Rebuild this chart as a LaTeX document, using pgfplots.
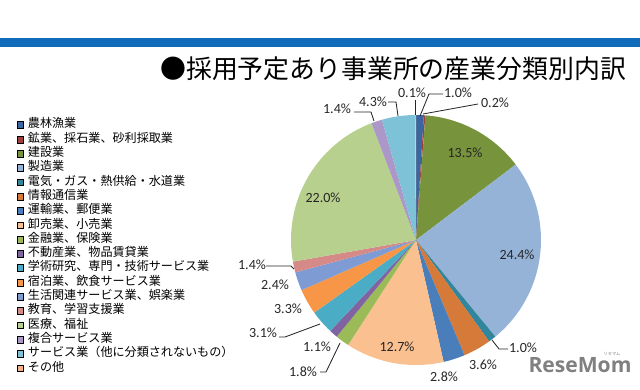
\documentclass[border=0pt]{standalone}
\usepackage{pgfplots}
\pgfplotsset{compat=1.18}
\usepackage{pgfplotstable}
\usepackage{fontspec}
\setmainfont{Carlito}
\newfontfamily\jp{Noto Sans CJK JP}
\newfontfamily\logo{Open Sans}
\definecolor{c0}{HTML}{3A67A0}
\definecolor{c1}{HTML}{A0403D}
\definecolor{c2}{HTML}{77933C}
\definecolor{c3}{HTML}{95B3D7}
\definecolor{c4}{HTML}{31859C}
\definecolor{c5}{HTML}{D57A39}
\definecolor{c6}{HTML}{4A7EBB}
\definecolor{c7}{HTML}{FAC090}
\definecolor{c8}{HTML}{9BBB59}
\definecolor{c9}{HTML}{8064A2}
\definecolor{c10}{HTML}{4BACC6}
\definecolor{c11}{HTML}{F79646}
\definecolor{c12}{HTML}{7E9BD3}
\definecolor{c13}{HTML}{D58A88}
\definecolor{c14}{HTML}{B8D08E}
\definecolor{c15}{HTML}{AB97C8}
\definecolor{c16}{HTML}{7EC2D8}
\definecolor{c17}{HTML}{F5B088}
\definecolor{bar}{HTML}{106CBA}
\definecolor{lab}{HTML}{262626}
\pgfplotstableread{
value
1.0
0.2
13.5
24.4
1.0
3.6
2.8
12.7
1.8
1.1
3.1
3.3
2.4
1.4
22.0
1.4
4.3
0.1
}\piedata
\begin{document}
\begin{tikzpicture}
\useasboundingbox (0,0) rectangle (16cm,9.725cm);
\begin{axis}[at={(0,0)}, anchor=south west, scale only axis,
  width=16cm, height=9.725cm, xmin=0, xmax=640, ymin=0, ymax=389,
  hide axis, clip=false,
  legend cell align=left,
  legend image code/.code={\fill[#1] (0cm,-0.085cm) rectangle (0.16cm,0.085cm);},
  legend style={at={(axis cs:17,271)}, anchor=north west, draw=none, fill=none,
    inner sep=0pt, outer sep=0pt, row sep=0pt,
    font=\jp\fontsize{8.6}{10}\selectfont,
    nodes={inner sep=0pt, text height=7.1pt, text depth=3.07pt},
    /tikz/every odd column/.append style={column sep=0.1cm}},
]
\addlegendimage{fill=c0}\addlegendentry{農林漁業}
\addlegendimage{fill=c1}\addlegendentry{鉱業、採石業、砂利採取業}
\addlegendimage{fill=c2}\addlegendentry{建設業}
\addlegendimage{fill=c3}\addlegendentry{製造業}
\addlegendimage{fill=c4}\addlegendentry{電気・ガス・熱供給・水道業}
\addlegendimage{fill=c5}\addlegendentry{情報通信業}
\addlegendimage{fill=c6}\addlegendentry{運輸業、郵便業}
\addlegendimage{fill=c7}\addlegendentry{卸売業、小売業}
\addlegendimage{fill=c8}\addlegendentry{金融業、保険業}
\addlegendimage{fill=c9}\addlegendentry{不動産業、物品賃貸業}
\addlegendimage{fill=c10}\addlegendentry{学術研究、専門・技術サービス業}
\addlegendimage{fill=c11}\addlegendentry{宿泊業、飲食サービス業}
\addlegendimage{fill=c12}\addlegendentry{生活関連サービス業、娯楽業}
\addlegendimage{fill=c13}\addlegendentry{教育、学習支援業}
\addlegendimage{fill=c14}\addlegendentry{医療、福祉}
\addlegendimage{fill=c15}\addlegendentry{複合サービス業}
\addlegendimage{fill=c16}\addlegendentry{サービス業（他に分類されないもの）}
\addlegendimage{fill=c17}\addlegendentry{その他}
% top bar
\fill[bar] (axis cs:0,342) rectangle (axis cs:640,351);
% title
\node[anchor=west, inner sep=0pt, text=black, font=\jp\fontsize{18.4}{21}\selectfont] at (axis cs:160,320) {●採用予定あり事業所の産業分類別内訳};
% pie
\def\cx{416}\def\cy{149}
\xdef\angA{90}
\pgfplotsforeachungrouped \i in {0,...,17}{%
  \pgfplotstablegetelem{\i}{value}\of\piedata
  \pgfmathsetmacro\angB{\angA-360*\pgfplotsretval/100.1}%
  \pgfmathsetmacro\px{\cx+125*cos(\angA)}%
  \pgfmathsetmacro\py{\cy+125*sin(\angA)}%
  \edef\cmd{\noexpand\fill[c\i] (axis cs:\cx,\cy) -- (axis cs:\px,\py) arc[start angle=\angA, end angle=\angB, radius=3.125cm] -- cycle;}%
  \cmd
  \xdef\angA{\angB}%
}
% leader lines
\begin{scope}[line width=0.6pt, lab]
\draw (axis cs:415,289) -- (axis cs:415,274);
\draw (axis cs:420,273) -- (axis cs:429,295) -- (axis cs:443,295);
\draw (axis cs:423,275) -- (axis cs:478,285);
\draw (axis cs:388,287) -- (axis cs:396,287) -- (axis cs:398,273);
\draw (axis cs:354,277) -- (axis cs:371,277) -- (axis cs:374,268);
\draw (axis cs:266,123) -- (axis cs:291,123) -- (axis cs:294,120);
\draw (axis cs:279,52) -- (axis cs:285,52) -- (axis cs:320,65);
\draw (axis cs:320,17) -- (axis cs:326,17) -- (axis cs:340,46);
\draw (axis cs:492,49) -- (axis cs:499,40) -- (axis cs:508,40);
\end{scope}
% labels
\begin{scope}[every node/.style={text=lab, inner sep=0pt, font=\fontsize{10}{12}\selectfont}]
\node at (axis cs:412,296) {0.1\%};
\node at (axis cs:458,296) {1.0\%};
\node at (axis cs:495,286) {0.2\%};
\node at (axis cs:373,287) {4.3\%};
\node at (axis cs:337,280) {1.4\%};
\node at (axis cs:465,236) {13.5\%};
\node at (axis cs:323,191) {22.0\%};
\node at (axis cs:517,134) {24.4\%};
\node at (axis cs:397,42) {12.7\%};
\node at (axis cs:252,124) {1.4\%};
\node at (axis cs:275,104) {2.4\%};
\node at (axis cs:288,80) {3.3\%};
\node at (axis cs:263,56) {3.1\%};
\node at (axis cs:317,42) {1.1\%};
\node at (axis cs:303,17) {1.8\%};
\node at (axis cs:444,12) {2.8\%};
\node at (axis cs:483,24) {3.6\%};
\node at (axis cs:523,41) {1.0\%};
\end{scope}
% watermark
\node[text=black!50, inner sep=0pt, font=\logo\bfseries\fontsize{15}{18}\selectfont] at (axis cs:580,24) {ReseMom};
\node[text=black!50, inner sep=0pt, font=\jp\fontsize{3}{4}\selectfont] at (axis cs:612,35) {リセマム};
\end{axis}
\end{tikzpicture}
\end{document}
